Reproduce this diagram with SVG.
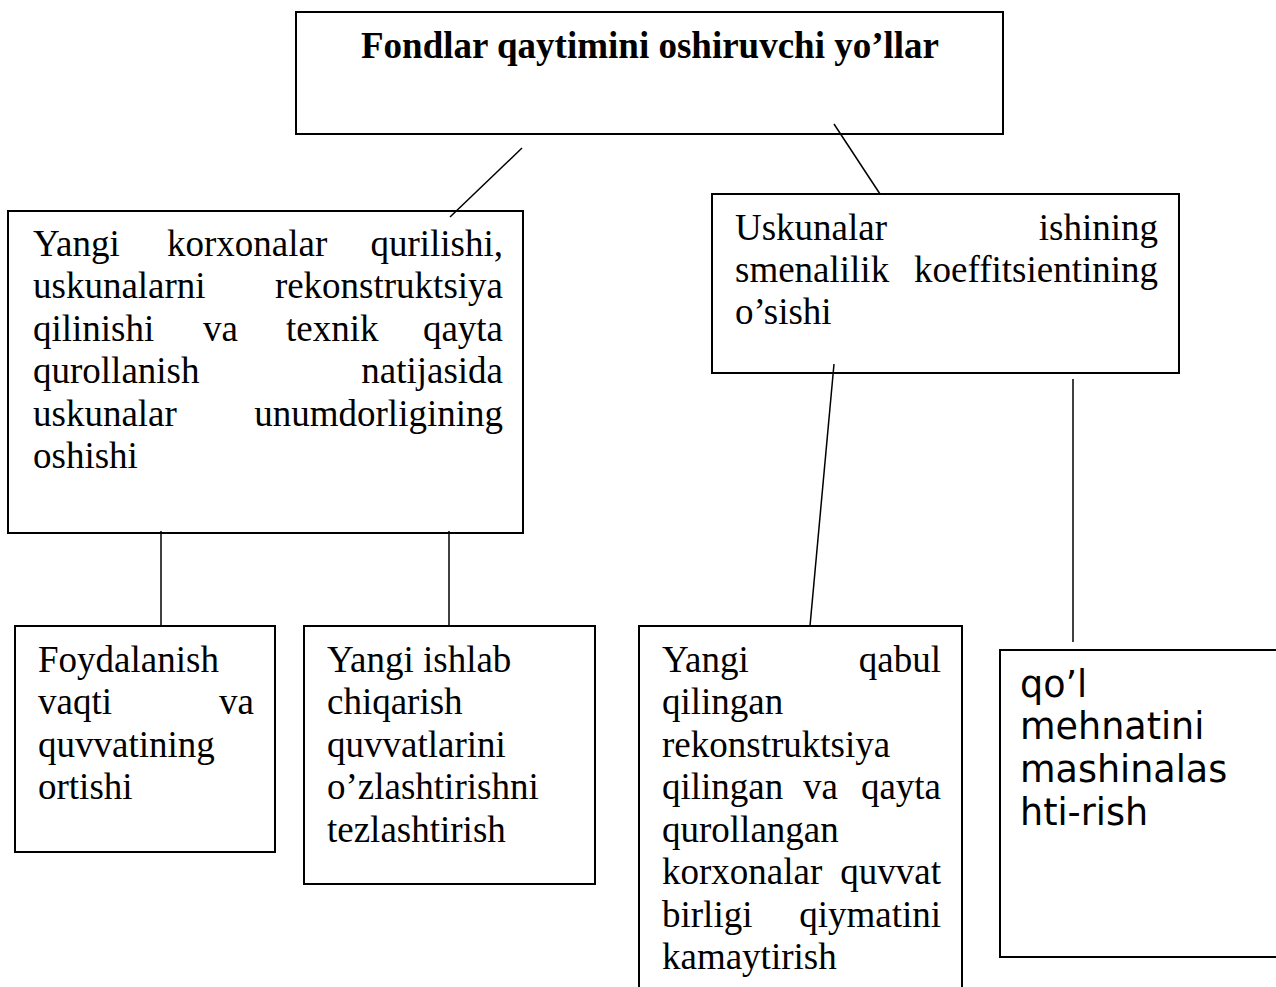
<svg xmlns="http://www.w3.org/2000/svg" width="1276" height="987" viewBox="0 0 1276 987">
<style>
.box{fill:#fff;stroke:#000;stroke-width:2}
.ln{stroke:#000;stroke-width:1.5;fill:none}
.t{font-family:"Liberation Serif","Times New Roman",serif;font-size:37px;fill:#000}
.e{text-anchor:end}
.b{font-weight:bold;text-anchor:middle}
.s{font-family:"DejaVu Sans",sans-serif;font-size:36.5px;fill:#000}
</style>
<rect width="1276" height="987" fill="#fff"/>
<g id="root">
<rect class="box" x="296" y="12" width="707" height="122"/>
<text class="t b" x="650" y="58">Fondlar qaytimini oshiruvchi yo’llar</text>
</g>
<g id="left">
<rect class="box" x="8" y="211" width="515" height="322"/>
<g class="t">
<text x="33" y="256">Yangi</text><text x="167" y="256">korxonalar</text><text class="e" x="503" y="256">qurilishi,</text>
<text x="33" y="298">uskunalarni</text><text class="e" x="503" y="298">rekonstruktsiya</text>
<text x="33" y="341">qilinishi</text><text x="203" y="341">va</text><text x="286" y="341">texnik</text><text class="e" x="503" y="341">qayta</text>
<text x="33" y="383">qurollanish</text><text class="e" x="503" y="383">natijasida</text>
<text x="33" y="426">uskunalar</text><text class="e" x="503" y="426">unumdorligining</text>
<text x="33" y="468">oshishi</text>
</g>
</g>
<g id="right">
<rect class="box" x="712" y="194" width="467" height="179"/>
<g class="t">
<text x="735" y="240">Uskunalar</text><text class="e" x="1158" y="240">ishining</text>
<text x="735" y="282">smenalilik</text><text class="e" x="1158" y="282">koeffitsientining</text>
<text x="735" y="324">o’sishi</text>
</g>
</g>
<g id="foydalanish">
<rect class="box" x="15" y="626" width="260" height="226"/>
<g class="t">
<text x="38" y="672">Foydalanish</text>
<text x="38" y="714">vaqti</text><text class="e" x="254" y="714">va</text>
<text x="38" y="757">quvvatining</text>
<text x="38" y="799">ortishi</text>
</g>
</g>
<g id="yangi-ishlab">
<rect class="box" x="304" y="626" width="291" height="258"/>
<g class="t">
<text x="327" y="672">Yangi ishlab</text>
<text x="327" y="714">chiqarish</text>
<text x="327" y="757">quvvatlarini</text>
<text x="327" y="799">o’zlashtirishni</text>
<text x="327" y="842">tezlashtirish</text>
</g>
</g>
<g id="yangi-qabul">
<rect class="box" x="639" y="626" width="323" height="370"/>
<g class="t">
<text x="662" y="672">Yangi</text><text class="e" x="941" y="672">qabul</text>
<text x="662" y="714">qilingan</text>
<text x="662" y="757">rekonstruktsiya</text>
<text x="662" y="799">qilingan</text><text x="803" y="799">va</text><text class="e" x="941" y="799">qayta</text>
<text x="662" y="842">qurollangan</text>
<text x="662" y="884">korxonalar</text><text class="e" x="941" y="884">quvvat</text>
<text x="662" y="927">birligi</text><text class="e" x="941" y="927">qiymatini</text>
<text x="662" y="969">kamaytirish</text>
</g>
</g>
<g id="qol">
<rect class="box" x="1000" y="650" width="290" height="307"/>
<g class="s">
<text x="1020" y="697">qo’l</text>
<text x="1020" y="739">mehnatini</text>
<text x="1020" y="782">mashinalas</text>
<text x="1020" y="825">hti-rish</text>
</g>
</g>
<g id="connectors">
<line class="ln" x1="522" y1="148" x2="450" y2="217"/>
<line class="ln" x1="834" y1="124" x2="880" y2="194"/>
<line class="ln" x1="834" y1="364" x2="810" y2="626"/>
<line class="ln" x1="1073" y1="379" x2="1073" y2="642"/>
<line class="ln" x1="161" y1="531" x2="161" y2="626"/>
<line class="ln" x1="449" y1="531" x2="449" y2="626"/>
</g>
</svg>
